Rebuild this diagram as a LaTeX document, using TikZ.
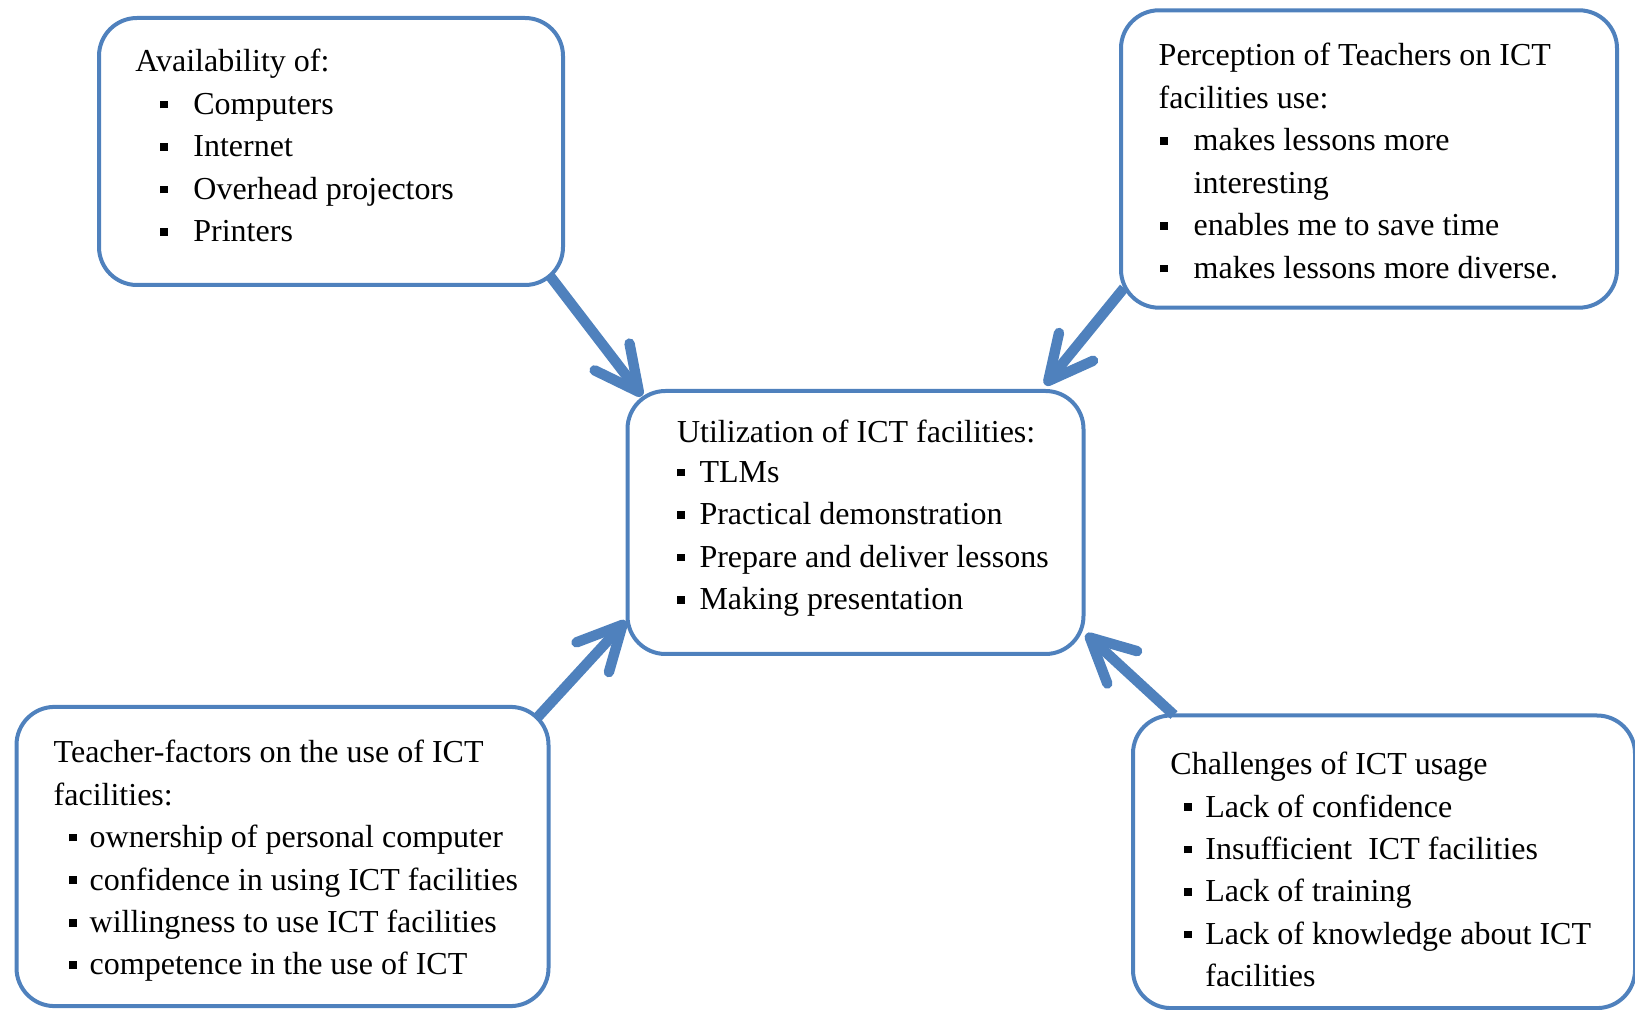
\documentclass[tikz,border=0pt]{standalone}
\usepackage{fontspec}
\setmainfont{Liberation Serif}
\usetikzlibrary{arrows.meta}

\definecolor{wordblue}{HTML}{4F81BD}

% bullet line: bullet offset, text offset, text
\newcommand{\bl}[3]{\makebox[#2][l]{\hspace*{#1}\rule[3pt]{3.9pt}{3.9pt}}#3}

\begin{document}
\begin{tikzpicture}[x=0.5pt, y=-0.5pt,
  box/.style={draw=wordblue, line width=2pt, rounded corners=19pt},
  txt/.style={anchor=base west, inner sep=0pt, font=\fontsize{16}{21.25}\selectfont},
  link/.style={wordblue, line width=5.2pt,
    -{Straight Barb[length=22pt, width=22pt, round]}}]

\useasboundingbox (0,0) rectangle (1635,1010);
\clip (0,0) rectangle (1635,1010);

% Arrow ends
\coordinate (availout) at (550,276);
\coordinate (usein1) at (642,396);
\coordinate (percout) at (1124,288);
\coordinate (usein2) at (1045,385);
\coordinate (teachout) at (536,719);
\coordinate (usein3) at (626,621);
\coordinate (challout) at (1174,715);
\coordinate (usein4) at (1086,634);

% Arrows into the centre
\draw[link] (availout) -- (usein1);
\draw[link] (percout) -- (usein2);
\draw[link] (teachout) -- (usein3);
\draw[link] (challout) -- (usein4);

% Boxes
\node[box, minimum width=232pt, minimum height=133.5pt] (avail) at (331,151.5) {};
\node[box, minimum width=248pt, minimum height=148.7pt] (perc) at (1369,159) {};
\node[box, minimum width=228pt, minimum height=131.5pt] (use) at (855.5,522.5) {};
\node[box, minimum width=266pt, minimum height=149.6pt] (teach) at (282.5,856.5) {};
\node[box, minimum width=251pt, minimum height=146.3pt] (chall) at (1384,861.8) {};

% Texts
\node[txt] (availtxt) at (135,72) {\begin{tabular}[t]{@{}l@{}}
Availability of:\\
\bl{12.5pt}{29pt}{Computers}\\
\bl{12.5pt}{29pt}{Internet}\\
\bl{12.5pt}{29pt}{Overhead projectors}\\
\bl{12.5pt}{29pt}{Printers}
\end{tabular}};

\node[txt] (perctxt) at (1158.3,66) {\begin{tabular}[t]{@{}l@{}}
Perception of Teachers on ICT\\
facilities use:\\
\bl{0.5pt}{17.5pt}{makes lessons more}\\
\hspace*{17.5pt}interesting\\
\bl{0.5pt}{17.5pt}{enables me to save time}\\
\bl{0.5pt}{17.5pt}{makes lessons more diverse.}
\end{tabular}};

\node[txt] (usetxt) at (676.7,443) {\begin{tabular}[t]{@{}l@{}}
Utilization of ICT facilities:\\[-1.5pt]
\bl{0pt}{11.2pt}{TLMs}\\
\bl{0pt}{11.2pt}{Practical demonstration}\\
\bl{0pt}{11.2pt}{Prepare and deliver lessons}\\
\bl{0pt}{11.2pt}{Making presentation}
\end{tabular}};

\node[txt] (teachtxt) at (53.3,762.5) {\begin{tabular}[t]{@{}l@{}}
Teacher-factors on the use of ICT\\
facilities:\\
\bl{7.5pt}{18pt}{ownership of personal computer}\\
\bl{7.5pt}{18pt}{confidence in using ICT facilities}\\
\bl{7.5pt}{18pt}{willingness to use ICT facilities}\\
\bl{7.5pt}{18pt}{competence in the use of ICT}
\end{tabular}};

\node[txt] (challtxt) at (1170,774.5) {\begin{tabular}[t]{@{}l@{}}
Challenges of ICT usage\\
\bl{7pt}{17.5pt}{Lack of confidence}\\
\bl{7pt}{17.5pt}{Insufficient~ ICT facilities}\\
\bl{7pt}{17.5pt}{Lack of training}\\
\bl{7pt}{17.5pt}{Lack of knowledge about ICT}\\
\hspace*{17.5pt}facilities
\end{tabular}};

\end{tikzpicture}
\end{document}
